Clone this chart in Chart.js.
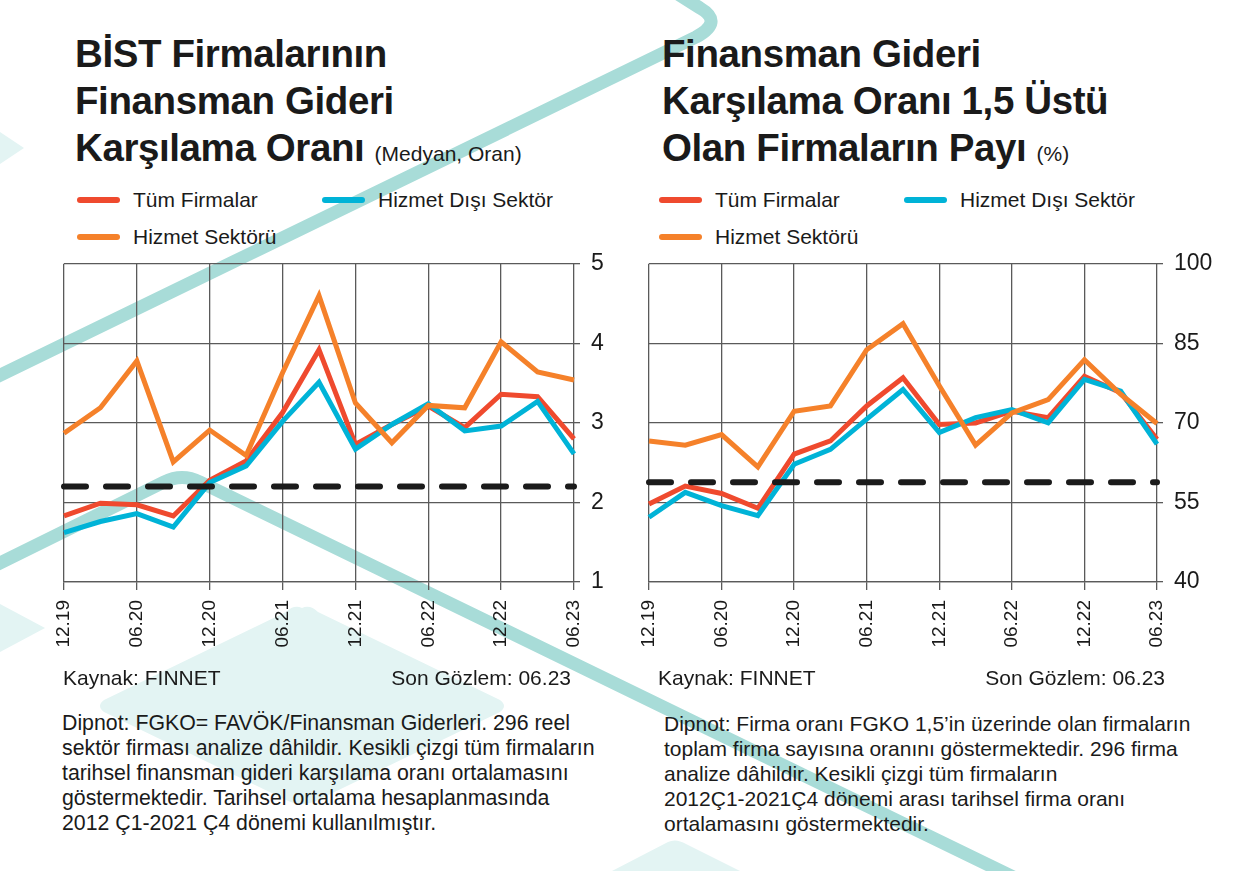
<!DOCTYPE html>
<html lang="tr">
<head>
<meta charset="utf-8">
<title>Finansman Gideri Karşılama Oranı</title>
<script src="https://cdn.jsdelivr.net/npm/chart.js@4.4.0/dist/chart.umd.min.js"></script>
<style>
    body {
        margin: 0;
        background: #ffffff;
        font-family: 'Liberation Sans', Arial, sans-serif;
        color: #1a1a1a;
    }
    #page {
        position: relative;
        width: 1259px;
        height: 871px;
        overflow: hidden;
        background: #ffffff;
    }
    #deco {
        position: absolute;
        left: 0;
        top: 0;
    }
    .title {
        position: absolute;
        top: 30px;
        font-weight: bold;
        font-size: 38.5px;
        line-height: 47px;
        letter-spacing: -0.4px;
        white-space: nowrap;
    }
    .title small {
        font-weight: normal;
        font-size: 21px;
        letter-spacing: 0;
    }
    .legend-item {
        position: absolute;
        font-size: 21px;
        line-height: 24px;
        white-space: nowrap;
    }
    .legend-item i {
        position: absolute;
        left: -56px;
        top: 9px;
        width: 43px;
        height: 6px;
        border-radius: 3px;
    }
    .note {
        position: absolute;
        font-size: 21px;
        line-height: 24px;
        white-space: nowrap;
    }
    .dipnot {
        position: absolute;
        top: 711px;
        font-size: 21.3px;
        line-height: 25px;
        white-space: nowrap;
    }
    canvas {
        position: absolute;
    }
</style>
</head>
<body>
<div id="page">
    <!-- decorative background shapes -->
    <svg id="deco" width="1259" height="871" viewBox="0 0 1259 871">
        <g fill="#e3f4f3">
            <path d="M0 132 L24 148 L0 164 Z"/>
            <path d="M0 604 L45 628 L0 652 Z"/>
            <path d="M302 608 Q310 604 318 612 L500 700 Q508 706 500 712 L318 800 Q302 808 286 800 L104 712 Q96 706 104 700 L286 612 Q294 604 302 608 Z"/>
            <path d="M612 871 L668 842 Q676 838 686 844 L740 871 Z"/>
        </g>
        <g fill="none" stroke="#a8dcd8" stroke-width="13" stroke-linecap="round" stroke-linejoin="round">
            <path d="M-20 385 L696 37 Q724 22 700 8 L640 -30"/>
            <path d="M-20 573 L164 482 Q182 473 200 482 L1040 890"/>
        </g>
    </svg>

    <!-- left panel -->
    <div class="title" style="left:75px;">BİST Firmalarının<br>Finansman Gideri<br>Karşılama Oranı <small>(Medyan, Oran)</small></div>
    <div class="legend-item" style="left:133px; top:188px;"><i style="background:#EF4A2E"></i>Tüm Firmalar</div>
    <div class="legend-item" style="left:378px; top:188px;"><i style="background:#00B3D7"></i>Hizmet Dışı Sektör</div>
    <div class="legend-item" style="left:133px; top:225px;"><i style="background:#F5812A"></i>Hizmet Sektörü</div>
    <canvas id="chartLeft" width="640" height="431" style="left:0; top:239px;"></canvas>
    <div class="note" style="left:63px; top:666px;">Kaynak: FINNET</div>
    <div class="note" style="right:688px; top:666px;">Son Gözlem: 06.23</div>
    <div class="dipnot" style="left:62px;">Dipnot: FGKO= FAVÖK/Finansman Giderleri. 296 reel<br>sektör firması analize dâhildir. Kesikli çizgi tüm firmaların<br>tarihsel finansman gideri karşılama oranı ortalamasını<br>göstermektedir. Tarihsel ortalama hesaplanmasında<br>2012 Ç1-2021 Ç4 dönemi kullanılmıştır.</div>

    <!-- right panel -->
    <div class="title" style="left:662px;">Finansman Gideri<br>Karşılama Oranı 1,5 Üstü<br>Olan Firmaların Payı <small>(%)</small></div>
    <div class="legend-item" style="left:715px; top:188px;"><i style="background:#EF4A2E"></i>Tüm Firmalar</div>
    <div class="legend-item" style="left:960px; top:188px;"><i style="background:#00B3D7"></i>Hizmet Dışı Sektör</div>
    <div class="legend-item" style="left:715px; top:225px;"><i style="background:#F5812A"></i>Hizmet Sektörü</div>
    <canvas id="chartRight" width="639" height="431" style="left:620px; top:239px;"></canvas>
    <div class="note" style="left:658px; top:666px;">Kaynak: FINNET</div>
    <div class="note" style="right:94px; top:666px;">Son Gözlem: 06.23</div>
    <div class="dipnot" style="left:664px; font-size:21px;">Dipnot: Firma oranı FGKO 1,5’in üzerinde olan firmaların<br>toplam firma sayısına oranını göstermektedir. 296 firma<br>analize dâhildir. Kesikli çizgi tüm firmaların<br>2012Ç1-2021Ç4 dönemi arası tarihsel firma oranı<br>ortalamasını göstermektedir.</div>
</div>

<script>
// Quarters (ticks shown every second quarter)
const quarters = ['12.19', '03.20', '06.20', '09.20', '12.20', '03.21', '06.21', '09.21',
                  '12.21', '03.22', '06.22', '09.22', '12.22', '03.23', '06.23'];

// Left panel: FGKO median (ratio)
const ratioAll      = [1.83, 1.99, 1.97, 1.83, 2.28, 2.52, 3.13, 3.92, 2.73, 2.98, 3.21, 2.94, 3.36, 3.33, 2.80];
const ratioService  = [2.87, 3.19, 3.78, 2.51, 2.91, 2.59, 3.63, 4.60, 3.25, 2.75, 3.22, 3.19, 4.02, 3.64, 3.54];
const ratioNonServ  = [1.62, 1.76, 1.86, 1.69, 2.25, 2.46, 3.02, 3.51, 2.67, 2.98, 3.24, 2.90, 2.96, 3.27, 2.61];
const ratioAverage  = 2.2;
const ratioTicks    = [1, 5, 1];   // min, max, step

// Right panel: share of firms with FGKO above 1.5 (%)
const shareAll      = [54.7, 58.1, 56.7, 53.9, 64.1, 66.6, 73.2, 78.5, 69.7, 70.0, 72.2, 71.0, 78.8, 75.7, 66.9];
const shareService  = [66.6, 65.8, 67.8, 61.7, 72.2, 73.2, 83.8, 88.7, 77.0, 65.8, 71.9, 74.4, 81.9, 75.4, 69.9];
const shareNonServ  = [52.2, 56.9, 54.4, 52.5, 62.2, 65.0, 70.7, 76.3, 68.2, 71.0, 72.5, 70.0, 78.2, 76.0, 66.0];
const shareAverage  = 58.8;
const shareTicks    = [40, 100, 15];

const COLORS = {
    all: '#EF4A2E',
    service: '#F5812A',
    nonService: '#00B3D7',
    average: '#1b1b1b',
    grid: '#5a5a5a'
};

Chart.defaults.font.family = "'Liberation Sans', Arial, sans-serif";
Chart.defaults.color = '#1a1a1a';

function lineSet(label, data, color) {
    return {
        label: label,
        data: data,
        borderColor: color,
        backgroundColor: color,
        borderWidth: 5,
        pointRadius: 0,
        tension: 0,
        borderJoinStyle: 'miter',
        clip: false
    };
}

function buildChart(canvasId, series, average, ticks, padding) {
    const ctx = document.getElementById(canvasId);
    return new Chart(ctx, {
        type: 'line',
        data: {
            labels: quarters,
            datasets: [
                {
                    label: 'Ortalama',
                    data: quarters.map(() => average),
                    borderColor: COLORS.average,
                    borderWidth: 6,
                    borderDash: [22, 20],
                    borderCapStyle: 'round',
                    pointRadius: 0,
                    clip: false
                },
                lineSet('Hizmet Sektörü', series[1], COLORS.service),
                lineSet('Hizmet Dışı Sektör', series[2], COLORS.nonService),
                lineSet('Tüm Firmalar', series[0], COLORS.all)
            ]
        },
        options: {
            responsive: false,
            animation: false,
            layout: { padding: padding },
            plugins: {
                legend: { display: false },
                tooltip: { enabled: false }
            },
            scales: {
                x: {
                    offset: false,
                    grid: {
                        color: (c) => (c.index % 2 === 0 ? COLORS.grid : 'rgba(0,0,0,0)'),
                        lineWidth: 1.3,
                        tickLength: 8
                    },
                    border: { color: COLORS.grid, width: 1.3 },
                    ticks: {
                        autoSkip: false,
                        minRotation: 90,
                        maxRotation: 90,
                        padding: 10,
                        font: { size: 19 },
                        callback: function(value, index) {
                            return index % 2 === 0 ? this.getLabelForValue(value) : '';
                        }
                    },
                    afterFit: (scale) => { scale.height = 88; }
                },
                y: {
                    position: 'right',
                    min: ticks[0],
                    max: ticks[1],
                    grid: { color: COLORS.grid, lineWidth: 1.3, tickLength: 6 },
                    border: { display: false },
                    ticks: {
                        stepSize: ticks[2],
                        padding: 11,
                        font: { size: 23 }
                    },
                    afterFit: (scale) => { scale.width = 60; }
                }
            }
        }
    });
}

document.addEventListener('DOMContentLoaded', function() {
    buildChart('chartLeft', [ratioAll, ratioService, ratioNonServ], ratioAverage, ratioTicks,
               { left: 64, top: 1, right: 6, bottom: 0 });
    buildChart('chartRight', [shareAll, shareService, shareNonServ], shareAverage, shareTicks,
               { left: 29, top: 1, right: 42, bottom: 0 });
});
</script>
</body>
</html>
